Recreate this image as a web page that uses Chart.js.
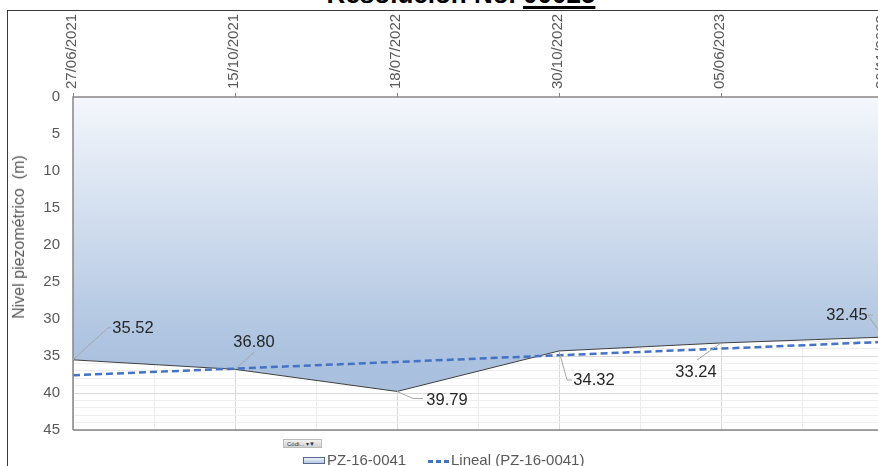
<!DOCTYPE html>
<html>
<head>
<meta charset="utf-8">
<script src="https://cdn.jsdelivr.net/npm/chart.js@4.4.0/dist/chart.umd.min.js"></script>
<style>
  html, body { margin:0; padding:0; width:878px; height:466px; overflow:hidden; background:#fff; font-family:"Liberation Sans", Arial, sans-serif; }
  #wrap { position:relative; width:878px; height:466px; overflow:hidden; }
  #title { position:absolute; left:0; top:-19px; width:922px; text-align:center; font-weight:bold; font-size:26px; line-height:26px; color:#000; white-space:nowrap; }
  #title u { text-decoration-thickness:2.5px; text-underline-offset:3px; }
  #frame { position:absolute; left:7px; top:10px; width:900px; height:500px; border-left:1.5px solid #3a3a3a; border-top:1.5px solid #3a3a3a; }
  #grafico { position:absolute; left:0; top:0; }
  #ytitle { position:absolute; left:19px; top:237px; transform:translate(-50%,-50%) rotate(-90deg); font-size:16px; color:#595959; white-space:nowrap; }
  #filtro { position:absolute; left:283px; top:439px; width:39px; height:9px; background:linear-gradient(#f2f2f2,#d2d2d2); border:1px solid #bcbcbc; font-size:6px; line-height:9px; color:#333; padding-left:3px; box-sizing:border-box; white-space:nowrap; }
  #cajaLeyenda { position:absolute; left:303px; top:457px; width:22px; height:7px; border:1px solid #56688a; background:linear-gradient(#eef3fa,#b4c8e3); box-sizing:border-box; }
  .leyenda { position:absolute; top:452px; font-size:15px; line-height:15px; color:#595959; white-space:nowrap; }
  #guion { position:absolute; left:428px; top:460px; width:22px; height:2.5px; background:repeating-linear-gradient(to right,#4472c4 0 5px,transparent 5px 8px); }
</style>
</head>
<body>
<div id="wrap">
  <div id="title">Resolución No. <u>00025</u></div>
  <div id="frame"></div>
  <canvas id="grafico" width="900" height="466"></canvas>
  <div id="ytitle">Nivel piezométrico&nbsp; (m)</div>
  <div id="filtro">Códi... ▾▼</div>
  <div id="cajaLeyenda"></div>
  <div class="leyenda" style="left:327px">PZ-16-0041</div>
  <div id="guion"></div>
  <div class="leyenda" style="left:451px">Lineal (PZ-16-0041)</div>
</div>
<script>
// datos
var fechas = ["27/06/2021", "15/10/2021", "18/07/2022", "30/10/2022", "05/06/2023", "20/11/2023"];
var nivel = [35.52, 36.80, 39.79, 34.32, 33.24, 32.45];
var tendencia = [37.60, 36.70, 35.80, 34.90, 34.00, 33.10];
var marcasY = [0, 5, 10, 15, 20, 25, 30, 35, 40, 45];

// posicion de cada etiqueta respecto a su punto, y su linea guia
var posEtiquetas = [
    {dx: 60, dy: -31, guia: [[35, -32], [38, -32]]},
    {dx: 19, dy: -27, guia: [[19, -17]]},
    {dx: 50, dy: 9, guia: [[16, 7], [26, 7]]},
    {dx: 35, dy: 29, guia: [[8, 29], [13, 29]]},
    {dx: -25, dy: 29, guia: [[-24, 17]]},
    {dx: -36, dy: -22, guia: [[-15, -22], [-10, -22]]}
];

var ejes = {
    id: 'ejes',
    afterDatasetsDraw: function(chart) {
        var ctx = chart.ctx, a = chart.chartArea;
        ctx.save();
        ctx.strokeStyle = '#868686';
        ctx.lineWidth = 1.5;
        ctx.beginPath();
        ctx.moveTo(a.left, a.bottom);
        ctx.lineTo(a.left, a.top);
        ctx.lineTo(a.right + 20, a.top);
        ctx.moveTo(a.left, a.bottom);
        ctx.lineTo(a.right + 20, a.bottom);
        ctx.stroke();
        ctx.restore();
    }
};

var etiquetas = {
    id: 'etiquetas',
    afterDatasetsDraw: function(chart) {
        var ctx = chart.ctx;
        var meta = chart.getDatasetMeta(1);
        ctx.save();
        meta.data.forEach(function(p, i) {
            var e = posEtiquetas[i];
            ctx.strokeStyle = '#a6a6a6';
            ctx.lineWidth = 1;
            ctx.beginPath();
            ctx.moveTo(p.x, p.y);
            e.guia.forEach(function(g) { ctx.lineTo(p.x + g[0], p.y + g[1]); });
            ctx.stroke();
            ctx.fillStyle = '#262626';
            ctx.font = '16.5px "Liberation Sans", Arial';
            ctx.textAlign = 'center';
            ctx.textBaseline = 'middle';
            ctx.fillText(nivel[i].toFixed(2), p.x + e.dx, p.y + e.dy);
        });
        ctx.restore();
    }
};

var myContext = document.getElementById("grafico").getContext('2d');
var myChart = new Chart(myContext, {
    type: 'line',
    data: {
        labels: fechas,
        datasets: [{
            label: 'Lineal (PZ-16-0041)',
            data: tendencia,
            borderColor: '#4472c4',
            borderWidth: 2.5,
            borderDash: [7, 4],
            pointRadius: 0,
            fill: false
        }, {
            label: 'PZ-16-0041',
            data: nivel,
            borderColor: '#404040',
            borderWidth: 1,
            pointRadius: 0,
            fill: {value: 0},
            backgroundColor: function(c) {
                var a = c.chart.chartArea;
                if (!a) return '#b4c8e3';
                var g = c.chart.ctx.createLinearGradient(0, a.top, 0, a.bottom);
                g.addColorStop(0, '#f4f7fc');
                g.addColorStop(0.75, '#adc3e0');
                g.addColorStop(1, '#a3bbdb');
                return g;
            }
        }]
    },
    options: {
        responsive: false,
        animation: false,
        layout: {padding: {left: 0, top: 0, right: 17, bottom: 36}},
        plugins: {
            legend: {display: false},
            tooltip: {enabled: false}
        },
        scales: {
            x: {
                position: 'top',
                afterFit: function(s) { s.height = 97; },
                grid: {color: '#d9d9d9', tickColor: '#868686', tickLength: 4},
                border: {display: false},
                ticks: {
                    autoSkip: false,
                    minRotation: 90,
                    maxRotation: 90,
                    labelOffset: 17,
                    padding: 4,
                    color: '#595959',
                    font: {family: '"Liberation Sans", Arial', size: 15}
                }
            },
            xMenor: {
                type: 'linear',
                position: 'bottom',
                min: 0,
                max: 5,
                afterFit: function(s) { s.height = 0; },
                grid: {
                    drawTicks: false,
                    color: function(c) { return Number.isInteger(c.tick.value) ? 'rgba(0,0,0,0)' : '#ececec'; }
                },
                border: {display: false},
                ticks: {display: false, stepSize: 0.5}
            },
            y: {
                reverse: true,
                min: 0,
                max: 45,
                afterFit: function(s) { s.width = 73; },
                grid: {
                    drawTicks: false,
                    color: function(c) { return c.tick.value % 5 === 0 ? '#d9d9d9' : '#eeeeee'; }
                },
                border: {display: false},
                ticks: {
                    stepSize: 1,
                    autoSkip: false,
                    maxTicksLimit: 100,
                    padding: 13,
                    color: '#595959',
                    font: {family: '"Liberation Sans", Arial', size: 15},
                    callback: function(v) { return marcasY.indexOf(v) >= 0 ? v : ''; }
                }
            }
        }
    },
    plugins: [ejes, etiquetas]
});
</script>
</body>
</html>
